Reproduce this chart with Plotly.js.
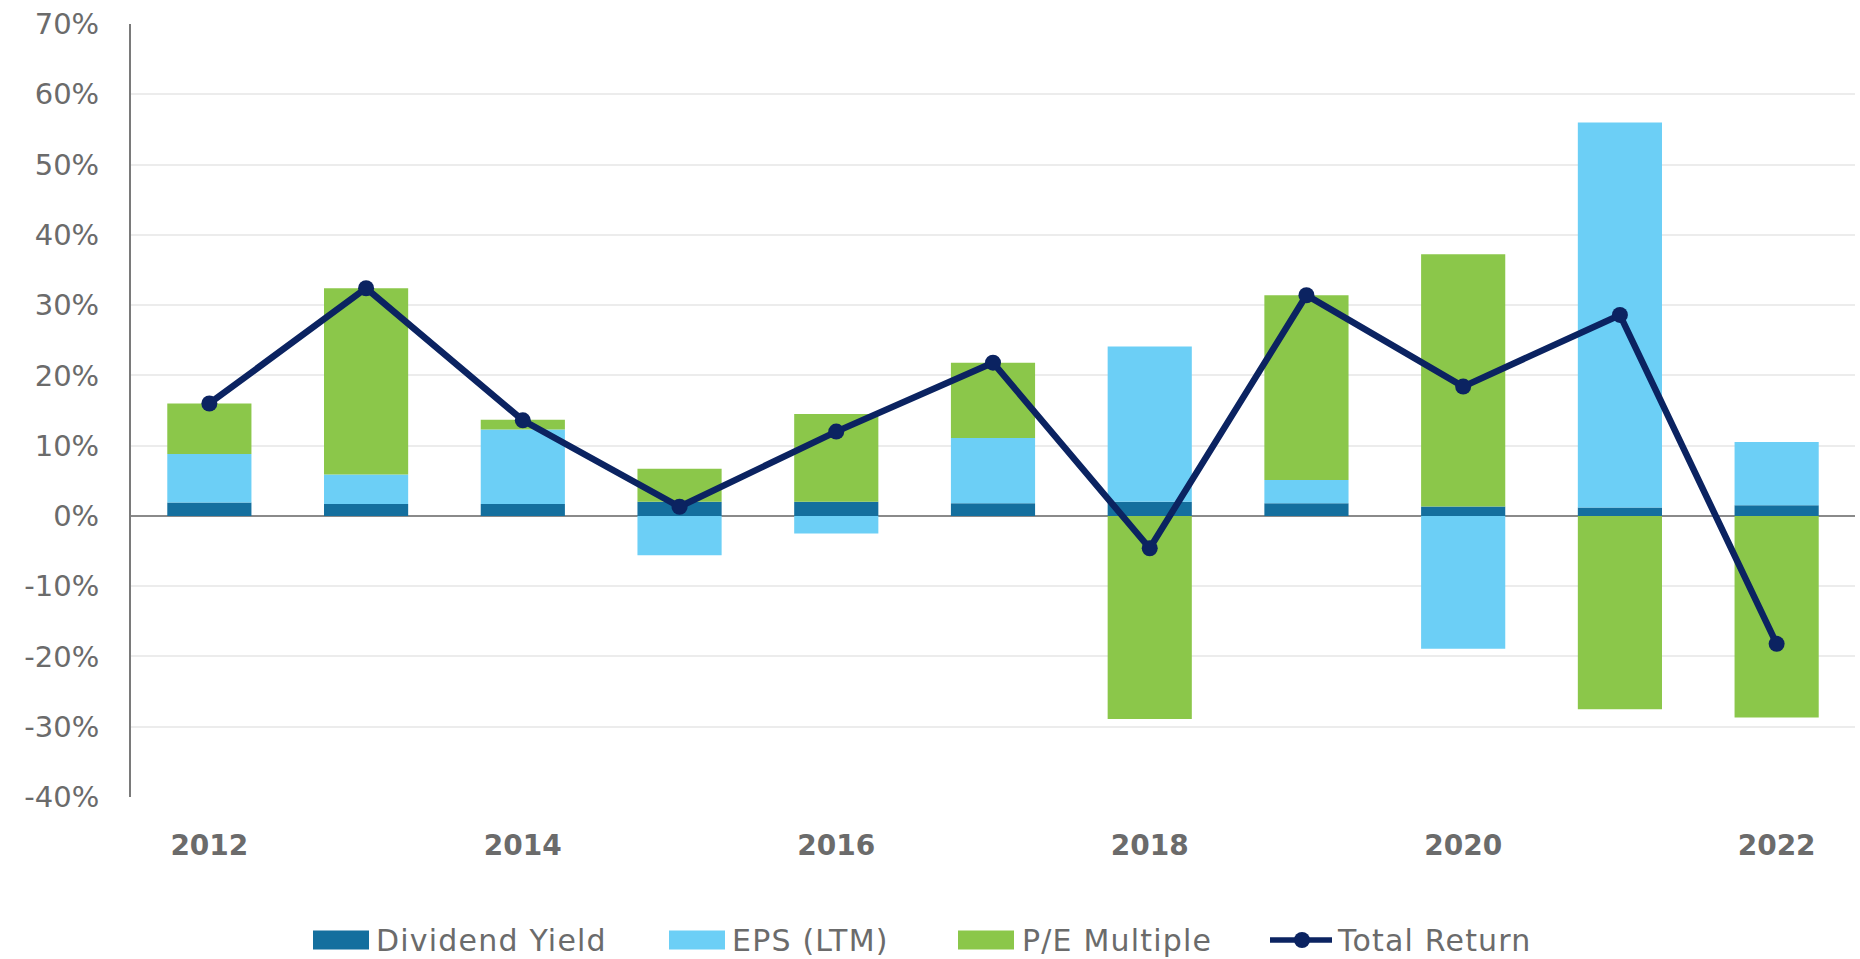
<!DOCTYPE html>
<html>
<head>
<meta charset="utf-8">
<script src="https://cdn.plot.ly/plotly-3.0.1.min.js"></script>
<style>
html,body{margin:0;padding:0;background:#fff}
#chart{width:1860px;height:959px}
.legend-label text{letter-spacing:1.2px}
</style>
</head>
<body>
<div id="chart"></div>
<script>
const years = [2012, 2013, 2014, 2015, 2016, 2017, 2018, 2019, 2020, 2021, 2022];
const dividendYield = [1.9, 1.7, 1.7, 2.0, 2.0, 1.8, 2.0, 1.8, 1.35, 1.2, 1.5];
const epsLTM = [6.9, 4.2, 10.6, -5.6, -2.5, 9.3, 22.1, 3.3, -18.9, 54.8, 9.0];
const peMultiple = [7.2, 26.5, 1.4, 4.7, 12.5, 10.7, -28.9, 26.3, 35.9, -27.5, -28.7];
const totalReturn = [16.0, 32.4, 13.6, 1.3, 12.0, 21.8, -4.6, 31.4, 18.4, 28.6, -18.2];
const yTickVals = [-40, -30, -20, -10, 0, 10, 20, 30, 40, 50, 60, 70];
const yTickText = ['-40%', '-30%', '-20%', '-10%', '0%', '10%', '20%', '30%', '40%', '50%', '60%', '70%'];
const xTickVals = [2012, 2014, 2016, 2018, 2020, 2022];
const seriesNames = ['Dividend Yield', 'EPS (LTM)', 'P/E Multiple', 'Total Return'];
const seriesColors = ['#146f9e', '#6ccff6', '#8bc74a', '#0b2361'];

const FONT = 'DejaVu Sans, Liberation Sans, Arial, sans-serif';
const GRAY = '#6b6b6b';

const traces = [
  {type: 'bar', name: seriesNames[0], x: years, y: dividendYield, marker: {color: seriesColors[0]}, hoverinfo: 'skip'},
  {type: 'bar', name: seriesNames[1], x: years, y: epsLTM, marker: {color: seriesColors[1]}, hoverinfo: 'skip'},
  {type: 'bar', name: seriesNames[2], x: years, y: peMultiple, marker: {color: seriesColors[2]}, hoverinfo: 'skip'},
  {type: 'scatter', mode: 'lines+markers', name: seriesNames[3], x: years, y: totalReturn,
   line: {color: seriesColors[3], width: 6.5}, marker: {color: seriesColors[3], size: 16}, hoverinfo: 'skip'}
];

// plot-area geometry (pixels) used only to place the custom legend
const M = {l: 131, r: 5, t: 24, b: 162};
const W = 1860, H = 959;
const PW = W - M.l - M.r, PH = H - M.t - M.b;
const px = v => (v - M.l) / PW;
const py = v => (H - M.b - v) / PH;

const legendY = 940;
const swatches = [
  {x0: 313, x1: 369, tx: 374},
  {x0: 669, x1: 725, tx: 730},
  {x0: 958, x1: 1014, tx: 1020}
];
const shapes = [];
const annotations = [];
swatches.forEach((s, i) => {
  shapes.push({type: 'rect', xref: 'paper', yref: 'paper', x0: px(s.x0), x1: px(s.x1),
    y0: py(legendY - 9.5), y1: py(legendY + 9.5), fillcolor: seriesColors[i], line: {width: 0}});
  annotations.push({xref: 'paper', yref: 'paper', x: px(s.tx), y: py(legendY), xanchor: 'left', yanchor: 'middle',
    align: 'left', text: seriesNames[i], showarrow: false, font: {family: FONT, size: 30, color: GRAY}});
});
shapes.push({type: 'line', xref: 'paper', yref: 'paper', x0: px(1270), x1: px(1332), y0: py(legendY), y1: py(legendY),
  line: {color: seriesColors[3], width: 5.5}});
shapes.push({type: 'circle', xref: 'paper', yref: 'paper', x0: px(1294), x1: px(1310), y0: py(legendY + 8), y1: py(legendY - 8),
  fillcolor: seriesColors[3], line: {width: 0}});
annotations.push({xref: 'paper', yref: 'paper', x: px(1335), y: py(legendY), xanchor: 'left', yanchor: 'middle',
  align: 'left', text: seriesNames[3], showarrow: false, font: {family: FONT, size: 30, color: GRAY}});

const layout = {
  width: W, height: H,
  margin: M,
  paper_bgcolor: '#ffffff', plot_bgcolor: '#ffffff',
  barmode: 'relative',
  bargap: 0.463,
  font: {family: FONT, color: GRAY},
  showlegend: false,
  shapes: shapes,
  annotations: annotations,
  xaxis: {range: [2011.5, 2022.5], tickvals: xTickVals, ticktext: xTickVals.map(String),
          showgrid: false, zeroline: false, showline: false, ticks: '',
          tickfont: {family: FONT, size: 28, color: GRAY, weight: 'bold'}, ticklabelstandoff: 29},
  yaxis: {range: [-40, 70], tickvals: yTickVals, ticktext: yTickText,
          showgrid: true, gridcolor: '#ececec', gridwidth: 2,
          zeroline: true, zerolinecolor: '#8a8a8a', zerolinewidth: 2,
          showline: true, linecolor: '#7a7a7a', linewidth: 2, ticks: '',
          tickfont: {family: FONT, size: 29, color: GRAY}, ticklabelstandoff: 24}
};

Plotly.newPlot('chart', traces, layout, {displayModeBar: false, staticPlot: true}).then(gd => {
  gd.querySelectorAll('.annotation-text-g').forEach(g => g.classList.add('legend-label'));
});
</script>
</body>
</html>
